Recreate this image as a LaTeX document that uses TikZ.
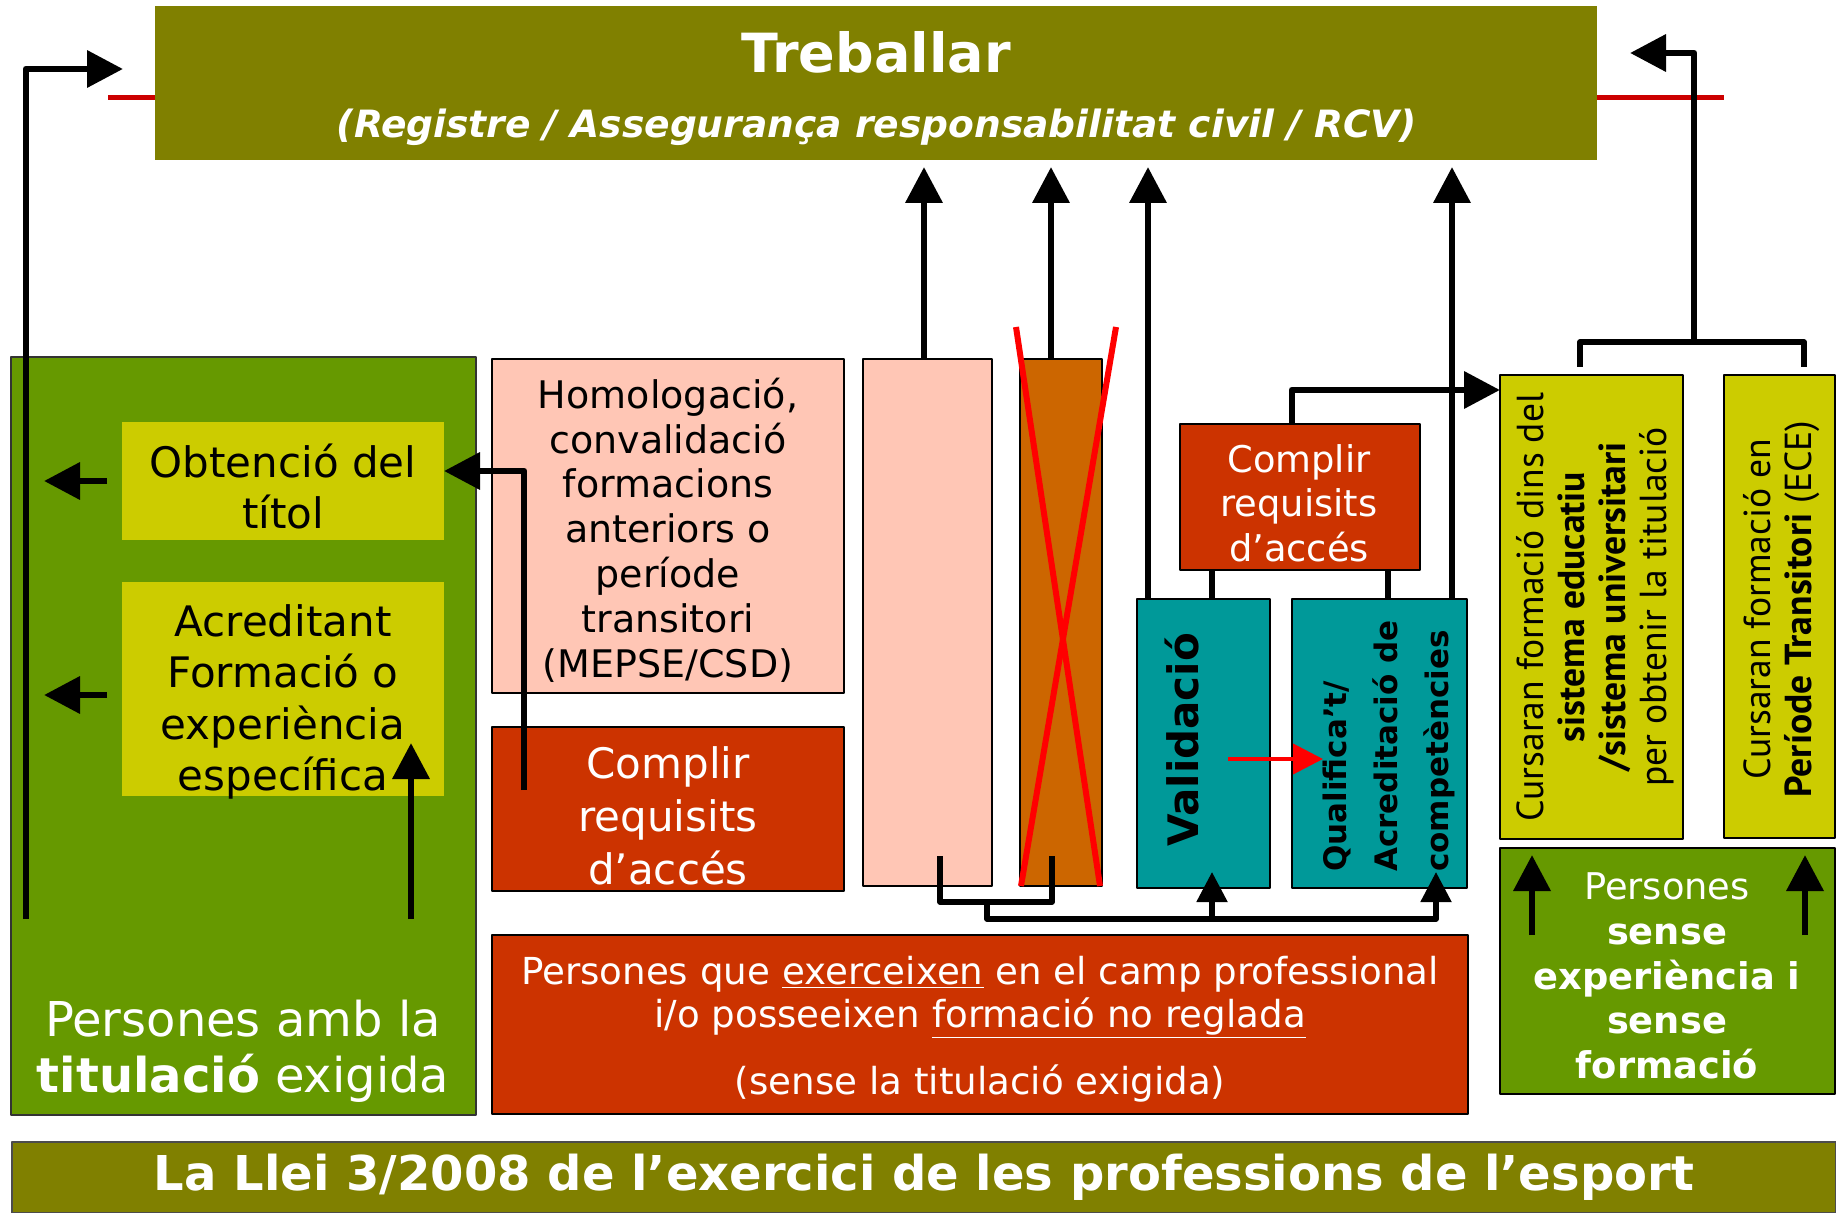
\documentclass[tikz,border=0pt]{standalone}
\usepackage{fontspec}
\setmainfont{DejaVu Sans}[ItalicFont={DejaVu Sans Oblique},BoldFont={DejaVu Sans Bold},BoldItalicFont={DejaVu Sans Bold Oblique}]
\newfontfamily\narrowfont{PT Sans}
\usetikzlibrary{arrows.meta}

\definecolor{bannerol}{HTML}{808000}
\definecolor{grassgr}{HTML}{669900}
\definecolor{lemony}{HTML}{CCCC00}
\definecolor{salmonp}{HTML}{FFC6B5}
\definecolor{brickr}{HTML}{CC3300}
\definecolor{rustb}{HTML}{CC6600}
\definecolor{tealb}{HTML}{009999}
\definecolor{redbar}{HTML}{CC0000}

\begin{document}
\begin{tikzpicture}[
        x = 0.5pt, y = -0.5pt,
        line join=round,
        box/.style = {draw=black, line width=1pt, inner sep=0pt, outer sep=0pt, anchor=north west, align=center},
        arr/.style = {line width=3.4pt, -{Triangle[length=18pt,width=18pt]}},
        smallarr/.style = {line width=2.6pt, -{Triangle[length=15pt,width=15pt]}},
        redarr/.style = {line width=2pt, red, -{Triangle[length=15pt,width=15pt]}},
        link/.style = {line width=2.6pt},
        cross/.style = {line width=3pt, red}
    ]
    \useasboundingbox (0,0) rectangle (1836,1213);

    % banner a dalt
    \node[box, draw=none, fill=bannerol, minimum width=721pt, minimum height=77pt] (treballar) at (155,6) {};
    \node[text=white, font=\fontsize{27}{30}\selectfont\bfseries] (treballarT) at (876,52) {Treballar};
    \node[text=white, font=\fontsize{18.8}{22}\selectfont\bfseries\itshape] (treballarS) at (877,127) {(Registre / Assegurança responsabilitat civil / RCV)};

    \coordinate (redL) at (108,98);
    \coordinate (redR) at (1724,98);
    \draw[line width=2.5pt, redbar] (redL) -- (redL -| treballar.west);
    \draw[line width=2.5pt, redbar] (treballar.east |- redR) -- (redR);

    % columna esquerra
    \node[box, draw=black!80, fill=grassgr, minimum width=232.5pt, minimum height=379pt] (titulats) at (11,357) {};
    \node[text=white, align=center, font=\fontsize{24}{28}\selectfont] (titulatsT) at (243,1051) {Persones amb la\\\textbf{titulació} exigida};
    \node[box, draw=none, fill=lemony, minimum width=161pt, minimum height=59pt] (obtencio) at (122,422) {};
    \node[align=center, font=\fontsize{21}{25.5}\selectfont] (obtencioT) at (283,487) {Obtenció del\\títol};
    \node[box, draw=none, fill=lemony, minimum width=161pt, minimum height=107pt] (acreditant) at (122,582) {};
    \node[align=center, font=\fontsize{21}{25.8}\selectfont] (acreditantT) at (283,702) {Acreditant\\Formació o\\experiència\\específica};

    % columna central
    \node[box, fill=salmonp, minimum width=176pt, minimum height=167pt] (homologacio) at (492,359) {};
    \node[align=center, font=\fontsize{19}{22.4}\selectfont] (homologacioT) at (668,530) {Homologació,\\convalidació\\formacions\\anteriors o\\període\\transitori\\(MEPSE/CSD)};
    \node[box, fill=brickr, minimum width=176pt, minimum height=82pt] (complirA) at (492,727) {};
    \node[text=white, align=center, font=\fontsize{21}{26.4}\selectfont] (complirAT) at (668,816) {Complir\\requisits\\d’accés};
    \node[box, fill=brickr, minimum width=488pt, minimum height=89.5pt] (persones) at (492,935) {};
    \node[text=white, align=center, font=\fontsize{18.6}{21.5}\selectfont] (personesT) at (980,1029) {Persones que \underline{exerceixen} en el camp professional\\i/o posseeixen \underline{formació no reglada}\\[12pt](sense la titulació exigida)};
    \node[box, fill=salmonp, minimum width=64.5pt, minimum height=263.5pt] (rosa) at (863,359) {};
    \node[box, fill=rustb, minimum width=41pt, minimum height=263.5pt] (marro) at (1020,359) {};

    \node[box, fill=brickr, minimum width=120pt, minimum height=73pt] (complirB) at (1180,424) {};
    \node[text=white, align=center, font=\fontsize{18.4}{22.3}\selectfont] (complirBT) at (1299,503) {Complir\\requisits\\d’accés};
    \node[box, fill=tealb, minimum width=66.5pt, minimum height=144.5pt] (validacio) at (1137,599) {};
    \node[rotate=90, font=\fontsize{21}{25}\selectfont\bfseries] (validacioT) at (1182,740) {Validació};
    \node[box, fill=tealb, minimum width=87.5pt, minimum height=144.5pt] (qualifica) at (1292,599) {};
    \node[rotate=90, align=left, font=\fontsize{15.5}{25.5}\selectfont\bfseries] (qualificaT) at (1389,746) {Qualifica’t/\\Acreditació de\\competències};

    % columna dreta
    \node[box, fill=lemony, minimum width=91.5pt, minimum height=232pt] (sistema) at (1500,375) {};
    \node[rotate=90, align=center, font=\narrowfont\fontsize{18.8}{20.5}\selectfont] (sistemaT) at (1595,607) {Cursaran formació dins del\\\textbf{sistema educatiu}\\\textbf{/sistema universitari}\\per obtenir la titulació};
    \node[box, fill=lemony, minimum width=55.5pt, minimum height=231.5pt] (periode) at (1724,375) {};
    \node[rotate=90, align=center, font=\narrowfont\fontsize{18.8}{20.5}\selectfont] (periodeT) at (1782,609) {Cursaran formació en\\\textbf{Període Transitori} (ECE)};
    \node[box, fill=grassgr, minimum width=167.5pt, minimum height=123pt] (sense) at (1500,848) {};
    \node[text=white, align=center, font=\fontsize{18.4}{22.3}\selectfont] (senseT) at (1667,976) {Persones\\\textbf{sense}\\\textbf{experiència i}\\\textbf{sense}\\\textbf{formació}};

    % banner a baix
    \node[box, draw=black!70, fill=bannerol, text=white, minimum width=912pt, minimum height=35.5pt, font=\fontsize{24}{28}\selectfont\bfseries] (llei) at (12,1142) {La Llei 3/2008 de l’exercici de les professions de l’esport};

    % creu
    \draw[cross] (1016,327) -- (1100,886);
    \draw[cross] (1021,886) -- (1116,327);

    % fletxes
    \coordinate (titStart) at (26,919);
    \coordinate (workL) at (123,69);
    \coordinate (acrUp) at (411,919);
    \coordinate (reqA) at (524,790);
    \draw[arr] (titStart) |- (workL);
    \draw[arr] (acrUp) -- ++(0,-176);
    \draw[arr] ([xshift=-7.5pt]obtencio.west) -- ++(-63,0);
    \draw[arr] ([xshift=-7.5pt,yshift=-3pt]acreditant.west) -- ++(-63,0);
    \draw[arr] (reqA) |- ([yshift=5pt]obtencio.east);

    \draw[arr, shorten >=3.5pt] ([xshift=-1.75pt]rosa.north) -- ([xshift=-1.75pt]rosa.north |- treballar.south);
    \draw[arr, shorten >=3.5pt] ([xshift=-5pt]marro.north) -- ([xshift=-5pt]marro.north |- treballar.south);
    \draw[arr, shorten >=3.5pt] ([xshift=5.5pt]validacio.north west) -- ([xshift=5.5pt]validacio.north west |- treballar.south);
    \draw[arr, shorten >=3.5pt] ([xshift=-7.5pt]qualifica.north east) -- ([xshift=-7.5pt]qualifica.north east |- treballar.south);

    \draw[arr] ([xshift=-4pt]complirB.north) |- ([yshift=-7.5pt]sistema.north west);
    \draw[link] ([xshift=4.25pt]validacio.north) -- ([xshift=4.25pt]validacio.north |- complirB.south);
    \draw[link] ([xshift=4.25pt]qualifica.north) -- ([xshift=4.25pt]qualifica.north |- complirB.south);
    \draw[redarr] ([xshift=-21pt,yshift=-7.75pt]validacio.east) -- ([xshift=15.5pt,yshift=-7.75pt]qualifica.west);

    \coordinate (rosaFoot) at (940,856);
    \coordinate (marroFoot) at (1052,856);
    \coordinate (busY) at (987,919);
    \coordinate (valFoot) at (1212,872);
    \coordinate (qualFoot) at (1436,872);
    \draw[link] (rosaFoot) -- ++(0,46) -| (marroFoot);
    \draw[smallarr] (busY) ++(0,-17) -- (busY) -| (qualFoot);
    \draw[smallarr] (valFoot |- busY) -- (valFoot);

    \coordinate (brkL) at (1580,367);
    \coordinate (brkR) at (1804,367);
    \coordinate (brkTop) at (1694,342);
    \coordinate (workR) at (1630,53);
    \draw[link] (brkL) |- (brkTop) -| (brkR);
    \draw[arr] (brkTop) |- (workR);

    \coordinate (senseL) at (1532,935);
    \coordinate (senseR) at (1805,935);
    \draw[arr] (senseL) -- ++(0,-80);
    \draw[arr] (senseR) -- ++(0,-80);
\end{tikzpicture}
\end{document}
